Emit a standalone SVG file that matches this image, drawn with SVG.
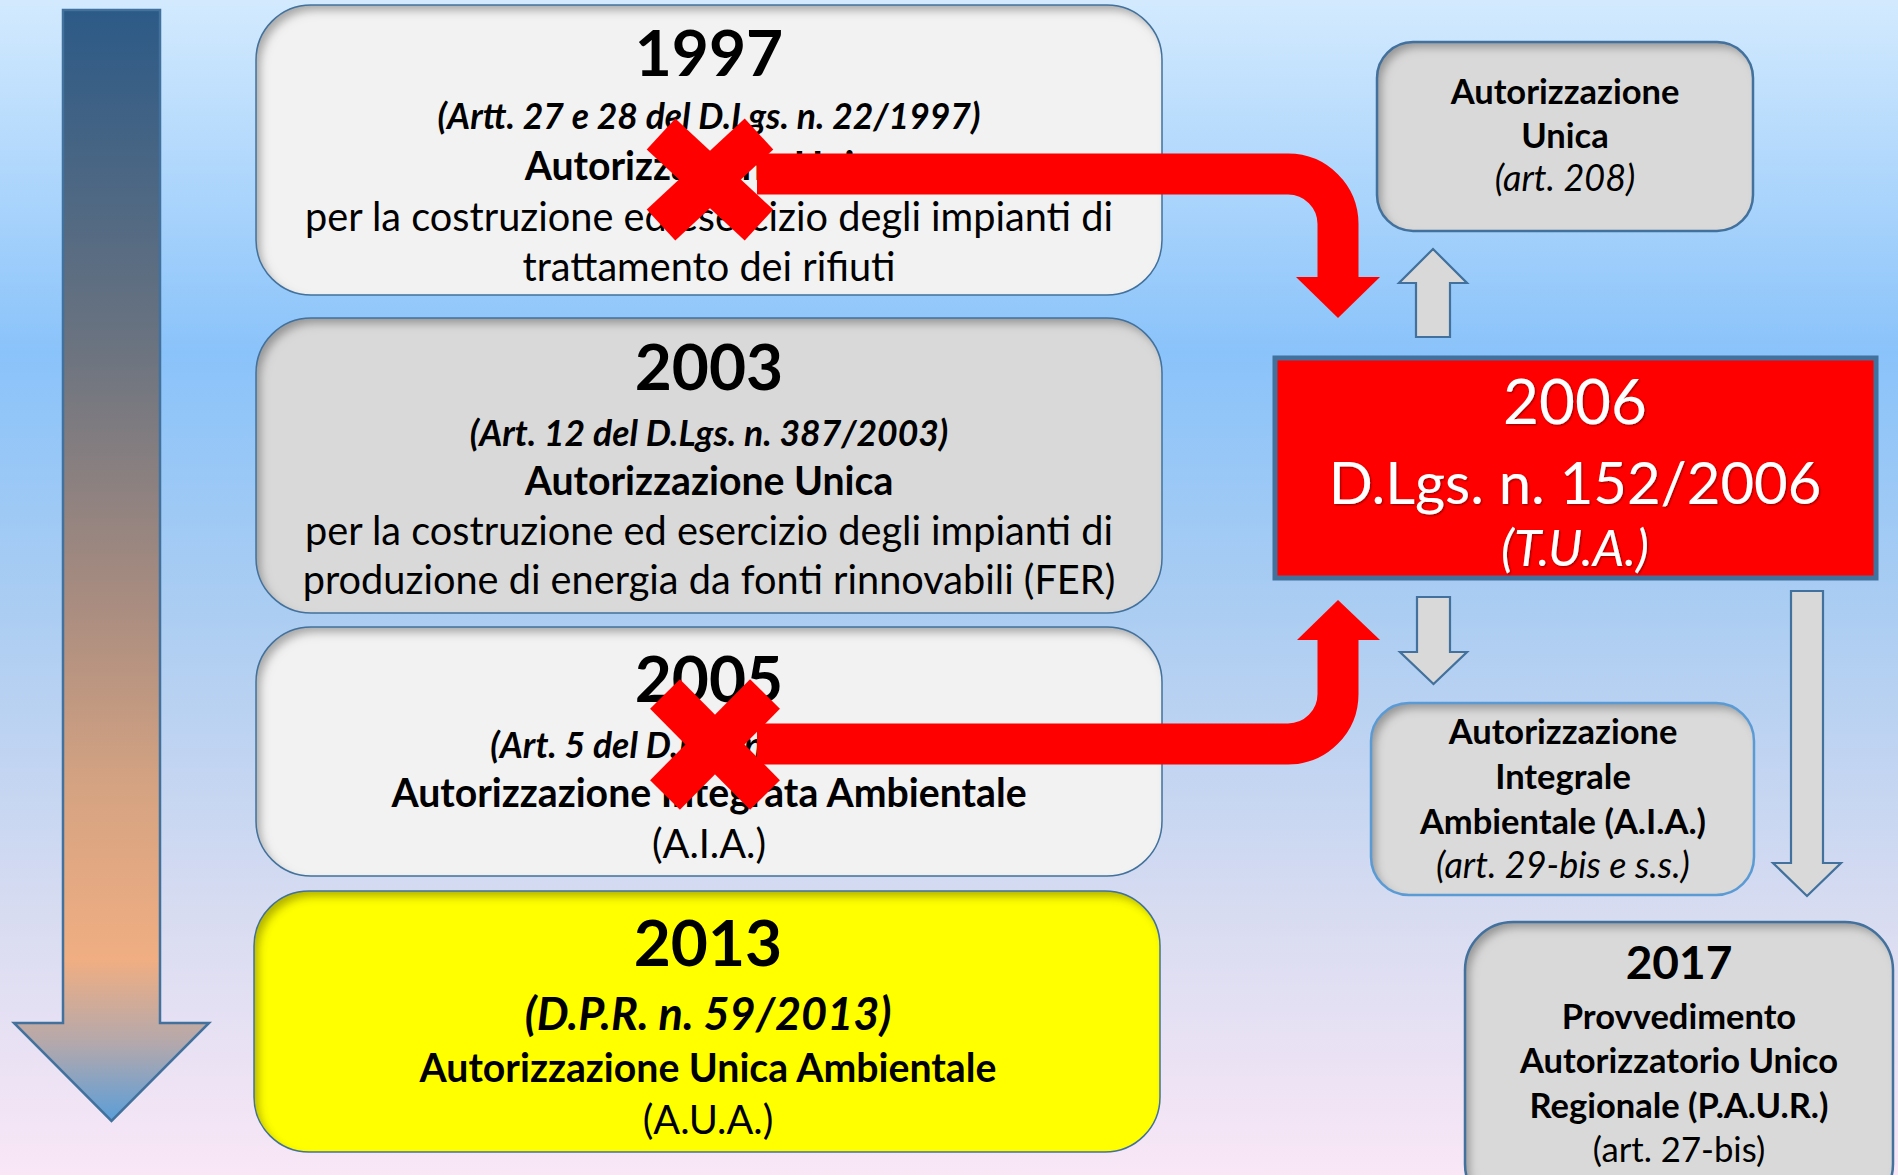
<svg xmlns="http://www.w3.org/2000/svg" width="1898" height="1175" viewBox="0 0 1898 1175">
<defs>
  <linearGradient id="bg" x1="0" y1="0" x2="0" y2="1">
    <stop offset="0" stop-color="#d3eafe"/>
    <stop offset="0.3" stop-color="#8ac3fa"/>
    <stop offset="0.52" stop-color="#abcdf2"/>
    <stop offset="0.78" stop-color="#d8dcf1"/>
    <stop offset="1" stop-color="#f9e7f6"/>
  </linearGradient>
  <linearGradient id="timeGrad" gradientUnits="userSpaceOnUse" x1="0" y1="10" x2="0" y2="1121">
    <stop offset="0" stop-color="#2c5a87"/>
    <stop offset="0.3" stop-color="#6a7380"/>
    <stop offset="0.53" stop-color="#a88c80"/>
    <stop offset="0.7" stop-color="#d5a382"/>
    <stop offset="0.855" stop-color="#f0ae82"/>
    <stop offset="0.93" stop-color="#b4a8ac"/>
    <stop offset="1" stop-color="#5b9ed8"/>
  </linearGradient>
  <filter id="inset" x="-5%" y="-10%" width="110%" height="120%">
    <feComponentTransfer in="SourceAlpha" result="inv">
      <feFuncA type="table" tableValues="1 0"/>
    </feComponentTransfer>
    <feGaussianBlur in="inv" stdDeviation="4"/>
    <feOffset dx="5" dy="6" result="ob"/>
    <feFlood flood-color="#000" flood-opacity="0.55"/>
    <feComposite in2="ob" operator="in"/>
    <feComposite in2="SourceAlpha" operator="in" result="sh"/>
    <feMerge><feMergeNode in="SourceGraphic"/><feMergeNode in="sh"/></feMerge>
  </filter>
  <filter id="glow" x="-10%" y="-20%" width="120%" height="140%">
    <feDropShadow dx="1" dy="1" stdDeviation="1" flood-color="#000" flood-opacity="0.45"/>
  </filter>
  <style>
    text { font-family: Lato, "Open Sans", "Liberation Sans", sans-serif; fill: #000; text-anchor: middle; }
    .yr { font-size: 64px; font-weight: 700; }
    .ref { font-size: 35.5px; font-weight: 700; font-style: italic; }
    .hd { font-size: 39.2px; font-weight: 700; }
    .bd { font-size: 39.7px; font-weight: 400; }
    .rb { font-size: 34.5px; font-weight: 700; }
    .ri { font-size: 36px; font-style: italic; font-weight: 400; }
    .rr { font-size: 34.7px; font-weight: 400; }
    .wt { fill: #fff; filter: url(#glow); }
    .box { stroke: none; filter: url(#inset); }
    .edge { fill: none; stroke: #41719c; stroke-width: 1.5; }
    .redge { fill: none; stroke: #41719c; stroke-width: 2.5; }
    .garrow { fill: #d9d9d9; stroke: #41719c; stroke-width: 2.2; }
    .red { fill: none; stroke: #ff0000; stroke-width: 41; }
    .xm { stroke: #ff0000; stroke-width: 42; stroke-linecap: butt; }
  </style>
</defs>

<rect x="0" y="0" width="1898" height="1175" fill="url(#bg)"/>

<g id="timeline">
  <polygon points="63,10 160,10 160,1023 209,1023 111.5,1121 14,1023 63,1023" fill="url(#timeGrad)" stroke="#41719c" stroke-width="2.5"/>
</g>

<g id="n1997">
  <rect class="box" x="256" y="5" width="906" height="290" rx="55" fill="#f2f2f2"/>
  <rect class="edge" x="256" y="5" width="906" height="290" rx="55"/>
  <text class="yr" x="709" y="76">1997</text>
  <text class="ref" x="709" y="129">(Artt. 27 e 28 del D.Lgs. n. 22/1997)</text>
  <text class="hd" x="709" y="180">Autorizzazione Unica</text>
  <text class="bd" x="709" y="231">per la costruzione ed esercizio degli impianti di</text>
  <text class="bd" x="709" y="281">trattamento dei rifiuti</text>
</g>

<g id="n2003">
  <rect class="box" x="256" y="318" width="906" height="295" rx="55" fill="#d9d9d9"/>
  <rect class="edge" x="256" y="318" width="906" height="295" rx="55"/>
  <text class="yr" x="709" y="390">2003</text>
  <text class="ref" x="709" y="446">(Art. 12 del D.Lgs. n. 387/2003)</text>
  <text class="hd" x="709" y="495">Autorizzazione Unica</text>
  <text class="bd" x="709" y="545">per la costruzione ed esercizio degli impianti di</text>
  <text class="bd" x="709" y="594">produzione di energia da fonti rinnovabili (FER)</text>
</g>

<g id="n2005">
  <rect class="box" x="256" y="627" width="906" height="249" rx="55" fill="#f2f2f2"/>
  <rect class="edge" x="256" y="627" width="906" height="249" rx="55"/>
  <text class="yr" x="709" y="702">2005</text>
  <text class="ref" x="709" y="758">(Art. 5 del D.Lgs. n. 59/2005)</text>
  <text class="hd" x="709" y="807">Autorizzazione Integrata Ambientale</text>
  <text class="bd" x="709" y="858">(A.I.A.)</text>
</g>

<g id="n2013">
  <rect class="box" x="254" y="891" width="906" height="261" rx="55" fill="#ffff00"/>
  <rect class="edge" x="254" y="891" width="906" height="261" rx="55"/>
  <text class="yr" x="708" y="966">2013</text>
  <text class="ref" x="708" y="1030" style="font-size:45px">(D.P.R. n. 59/2013)</text>
  <text class="hd" x="708" y="1082">Autorizzazione Unica Ambientale</text>
  <text class="bd" x="708" y="1134">(A.U.A.)</text>
</g>

<g id="nAU">
  <rect class="box" x="1377" y="42" width="376" height="189" rx="36" fill="#d9d9d9"/>
  <rect class="redge" x="1377" y="42" width="376" height="189" rx="36"/>
  <text class="rb" x="1565" y="104">Autorizzazione</text>
  <text class="rb" x="1565" y="148">Unica</text>
  <text class="ri" x="1565" y="191">(art. 208)</text>
</g>

<g id="n2006">
  <rect x="1275" y="358" width="601" height="220" fill="#ff0000" stroke="#41719c" stroke-width="5"/>
  <text class="wt" x="1575" y="424" style="font-size:62px">2006</text>
  <text class="wt" x="1575" y="504" style="font-size:58px">D.Lgs. n. 152/2006</text>
  <text class="wt" x="1575" y="566" style="font-size:50px;font-style:italic">(T.U.A.)</text>
</g>

<g id="nAIA">
  <rect class="box" x="1371" y="703" width="383" height="192" rx="38" fill="#dadada"/>
  <rect x="1371" y="703" width="383" height="192" rx="38" fill="none" stroke="#5b9bd5" stroke-width="2.5"/>
  <text class="rb" x="1563" y="744">Autorizzazione</text>
  <text class="rb" x="1563" y="789">Integrale</text>
  <text class="rb" x="1563" y="834">Ambientale (A.I.A.)</text>
  <text class="ri" x="1563" y="878">(art. 29-bis e s.s.)</text>
</g>

<g id="n2017">
  <rect class="box" x="1465" y="922" width="428" height="290" rx="48" fill="#d9d9d9"/>
  <rect class="redge" x="1465" y="922" width="428" height="290" rx="48"/>
  <text class="yr" x="1679" y="979" style="font-size:46px">2017</text>
  <text class="rb" x="1679" y="1029">Provvedimento</text>
  <text class="rb" x="1679" y="1073">Autorizzatorio Unico</text>
  <text class="rb" x="1679" y="1118">Regionale (P.A.U.R.)</text>
  <text class="rr" x="1679" y="1162">(art. 27-bis)</text>
</g>

<g id="connectors">
  <g id="cross1997">
    <line class="xm" x1="661" y1="134" x2="759" y2="225"/>
    <line class="xm" x1="759" y1="134" x2="661" y2="225"/>
  </g>
  <g id="cross2005">
    <line class="xm" x1="665" y1="694" x2="765" y2="795"/>
    <line class="xm" x1="765" y1="694" x2="665" y2="795"/>
  </g>
  <path class="red" d="M757,174 H1288 A50,50 0 0 1 1338,224 V280"/>
  <polygon points="1296,277 1380,277 1338,318" fill="#ff0000"/>
  <path class="red" d="M757,744 H1288 A50,50 0 0 0 1338,694 V637"/>
  <polygon points="1297,640 1380,640 1338,600" fill="#ff0000"/>
  <polygon class="garrow" points="1416,337 1450,337 1450,283 1467,283 1433,249 1399,283 1416,283"/>
  <polygon class="garrow" points="1417,597 1450,597 1450,652 1467,652 1433.5,684 1400,652 1417,652"/>
  <polygon class="garrow" points="1791,591 1823,591 1823,863 1841,863 1807,896 1773,863 1791,863"/>
</g>
</svg>
